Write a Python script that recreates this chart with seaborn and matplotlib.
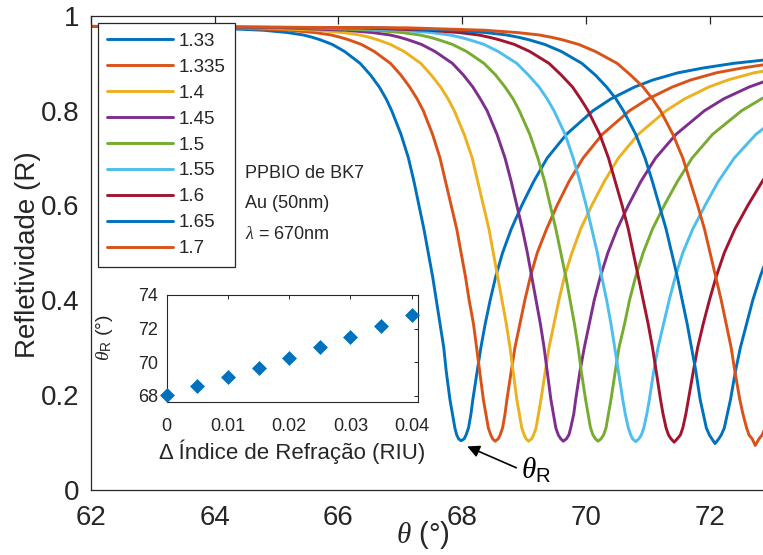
import matplotlib
matplotlib.use("Agg")
import matplotlib.pyplot as plt
import numpy as np
import pandas as pd
import seaborn as sns

# ---------------- data ----------------
labels = ["1.33", "1.335", "1.4", "1.45", "1.5", "1.55", "1.6", "1.65", "1.7"]
colors = ["#0072BD", "#D95319", "#EDB120", "#7E2F8E", "#77AC30",
          "#4DBEEE", "#A2142F", "#0072BD", "#D95319"]

# reflectivity levels at which the falling / rising branches were read
levels_desc = [0.978, 0.975, 0.97, 0.965, 0.96, 0.955, 0.95, 0.94, 0.925, 0.90,
               0.875, 0.85, 0.825, 0.80, 0.75, 0.70, 0.65, 0.60, 0.55, 0.50,
               0.45, 0.40, 0.35, 0.30, 0.25, 0.19, 0.16, 0.13, 0.115, 0.107]
levels_asc = [0.107, 0.115, 0.13, 0.16, 0.19, 0.25, 0.30, 0.35, 0.40, 0.45,
              0.50, 0.55, 0.60, 0.65, 0.70, 0.75, 0.80, 0.825, 0.85, 0.865,
              0.88, 0.89, 0.90, 0.91]

# angle (deg) of each curve at the falling-branch levels
desc_133 = [62.0, 63.88, 64.78, 65.18, 65.43, 65.58, 65.70, 65.90, 66.10, 66.35, 66.52, 66.66, 66.77, 66.86, 67.01, 67.13, 67.22, 67.30, 67.38, 67.45, 67.52, 67.58, 67.64, 67.70, 67.74, 67.80, 67.84, 67.88, 67.91, 67.94]
desc_1335 = [62.0, 64.27, 65.20, 65.62, 65.88, 66.03, 66.16, 66.37, 66.58, 66.84, 67.01, 67.15, 67.27, 67.37, 67.52, 67.64, 67.73, 67.82, 67.91, 67.98, 68.05, 68.11, 68.18, 68.23, 68.28, 68.34, 68.38, 68.42, 68.46, 68.49]
desc_140 = [62.0, 64.68, 65.65, 66.07, 66.34, 66.50, 66.63, 66.84, 67.06, 67.33, 67.50, 67.65, 67.77, 67.87, 68.03, 68.16, 68.25, 68.34, 68.43, 68.50, 68.57, 68.64, 68.71, 68.77, 68.82, 68.88, 68.92, 68.96, 69.00, 69.03]
desc_145 = [62.0, 65.12, 66.11, 66.55, 66.83, 66.99, 67.12, 67.34, 67.56, 67.84, 68.02, 68.17, 68.29, 68.40, 68.56, 68.69, 68.79, 68.88, 68.97, 69.05, 69.12, 69.19, 69.26, 69.32, 69.37, 69.43, 69.47, 69.51, 69.55, 69.59]
desc_150 = [62.0, 65.56, 66.57, 67.03, 67.31, 67.48, 67.61, 67.84, 68.07, 68.35, 68.54, 68.69, 68.82, 68.92, 69.09, 69.22, 69.33, 69.42, 69.51, 69.59, 69.67, 69.74, 69.81, 69.87, 69.92, 69.99, 70.03, 70.07, 70.11, 70.15]
desc_155 = [62.0, 65.96, 67.02, 67.50, 67.79, 67.97, 68.11, 68.35, 68.58, 68.88, 69.07, 69.24, 69.37, 69.48, 69.66, 69.79, 69.90, 70.00, 70.09, 70.18, 70.25, 70.33, 70.40, 70.46, 70.52, 70.59, 70.63, 70.68, 70.72, 70.75]
desc_160 = [62.0, 66.34, 67.45, 67.95, 68.26, 68.44, 68.59, 68.84, 69.09, 69.40, 69.60, 69.78, 69.91, 70.03, 70.22, 70.36, 70.47, 70.58, 70.68, 70.76, 70.84, 70.92, 71.00, 71.07, 71.13, 71.20, 71.24, 71.29, 71.33, 71.37]
desc_165 = [62.0, 66.67, 67.86, 68.38, 68.71, 68.91, 69.07, 69.33, 69.60, 69.93, 70.15, 70.33, 70.48, 70.60, 70.80, 70.95, 71.07, 71.18, 71.29, 71.38, 71.47, 71.55, 71.63, 71.70, 71.77, 71.84, 71.89, 71.94, 71.99, 72.03]
desc_170 = [62.0, 67.11, 68.35, 68.89, 69.24, 69.44, 69.61, 69.88, 70.15, 70.50, 70.72, 70.92, 71.07, 71.20, 71.40, 71.56, 71.68, 71.80, 71.91, 72.00, 72.09, 72.18, 72.26, 72.34, 72.40, 72.48, 72.53, 72.59, 72.63, 72.68]

# resonance minimum of each curve
theta_min = [67.98, 68.53, 69.07, 69.63, 70.19, 70.80, 71.42, 72.08, 72.73]
r_min = [0.103, 0.102, 0.102, 0.102, 0.102, 0.101, 0.100, 0.097, 0.093]

# angle (deg) of each curve at the rising-branch levels
asc_133 = [68.03, 68.06, 68.10, 68.14, 68.17, 68.24, 68.30, 68.37, 68.45, 68.54, 68.65, 68.79, 68.96, 69.15, 69.37, 69.68, 70.11, 70.40, 70.78, 71.08, 71.48, 71.88, 72.38, 73.08]
asc_1335 = [68.58, 68.61, 68.65, 68.69, 68.72, 68.79, 68.85, 68.93, 69.01, 69.10, 69.21, 69.36, 69.53, 69.72, 69.95, 70.26, 70.70, 71.00, 71.39, 71.69, 72.10, 72.51, 73.02]
asc_140 = [69.12, 69.15, 69.19, 69.23, 69.27, 69.34, 69.40, 69.48, 69.56, 69.65, 69.77, 69.91, 70.09, 70.29, 70.52, 70.84, 71.29, 71.59, 71.98, 72.29, 72.71, 73.13]
asc_145 = [69.68, 69.72, 69.75, 69.80, 69.83, 69.90, 69.97, 70.05, 70.13, 70.23, 70.35, 70.50, 70.68, 70.88, 71.12, 71.45, 71.91, 72.22, 72.63, 72.95, 73.38]
asc_150 = [70.24, 70.28, 70.32, 70.36, 70.40, 70.47, 70.53, 70.62, 70.70, 70.80, 70.92, 71.07, 71.26, 71.47, 71.71, 72.04, 72.51, 72.83, 73.24]
asc_155 = [70.85, 70.89, 70.93, 70.98, 71.02, 71.09, 71.16, 71.25, 71.34, 71.44, 71.56, 71.72, 71.92, 72.13, 72.39, 72.74, 73.23]
asc_160 = [71.47, 71.52, 71.56, 71.61, 71.65, 71.73, 71.80, 71.89, 71.99, 72.10, 72.23, 72.40, 72.61, 72.84, 73.10]
asc_165 = [72.14, 72.18, 72.23, 72.28, 72.33, 72.41, 72.49, 72.59, 72.69, 72.81, 72.95, 73.13]
asc_170 = [72.79, 72.84, 72.89, 72.94, 72.99, 73.08]

# inset: resonance angle vs refractive-index change
delta_n = [0.0, 0.005, 0.01, 0.015, 0.02, 0.025, 0.03, 0.035, 0.04]
theta_r = [68.08, 68.60, 69.14, 69.68, 70.26, 70.90, 71.52, 72.16, 72.80]

x_ticks = [62, 64, 66, 68, 70, 72]
y_ticks = [0, 0.2, 0.4, 0.6, 0.8, 1]
y_ticklabels = ["0", "0.2", "0.4", "0.6", "0.8", "1"]
inset_xticks = [0, 0.01, 0.02, 0.03, 0.04]
inset_xticklabels = ["0", "0.01", "0.02", "0.03", "0.04"]
inset_yticks = [68, 70, 72, 74]

# ---------------- build long table ----------------
desc_all = [desc_133, desc_1335, desc_140, desc_145, desc_150, desc_155,
            desc_160, desc_165, desc_170]
asc_all = [asc_133, asc_1335, asc_140, asc_145, asc_150, asc_155,
           asc_160, asc_165, asc_170]
rows = []
for lab, d, tm, rm, a in zip(labels, desc_all, theta_min, r_min, asc_all):
    xs = list(d) + [tm] + list(a)
    ys = list(levels_desc) + [rm] + list(levels_asc[:len(a)])
    for xv, yv in zip(xs, ys):
        rows.append({"n": lab, "theta": xv, "R": yv})
df = pd.DataFrame(rows)

# ---------------- style ----------------
sns.set_style("white")
plt.rcParams.update({
    "font.family": ["Liberation Sans", "DejaVu Sans"],
    "mathtext.fontset": "custom",
    "mathtext.rm": "Liberation Sans",
    "mathtext.it": "Liberation Serif:italic",
    "mathtext.bf": "Liberation Sans:bold",
    "axes.edgecolor": "#262626",
    "axes.linewidth": 0.9,
    "text.color": "#262626",
    "axes.labelcolor": "#262626",
    "xtick.color": "#262626",
    "ytick.color": "#262626",
})

W, H = 763, 555
fig = plt.figure(figsize=(W / 100, H / 100), dpi=100)
fig.patch.set_facecolor("white")


def fx(px):
    return px / W


def fy(py):
    return 1 - py / H


ax = fig.add_axes([fx(90.7), fy(489.5), 681.3 / W, 473.5 / H])

sns.lineplot(data=df, x="theta", y="R", hue="n", hue_order=labels,
             palette=colors, sort=False, estimator=None, units="n",
             linewidth=2.1, ax=ax, legend=True)

ax.set_xlim(62, 73)
ax.set_ylim(0, 1)
ax.set_xticks(x_ticks)
ax.set_xticklabels([str(t) for t in x_ticks])
ax.set_yticks(y_ticks)
ax.set_yticklabels(y_ticklabels)
ax.tick_params(direction="in", length=6, width=0.9, top=True, right=True,
               labelsize=20)
ax.tick_params(axis="x", pad=11)
ax.tick_params(axis="y", pad=8)
for s in ax.spines.values():
    s.set_visible(True)
    s.set_color("#262626")

ax.set_xlabel(r"$\theta$ (°)", fontsize=21)
ax.set_ylabel("Refletividade (R)", fontsize=20)
ax.xaxis.set_label_coords((423 - 90.7) / 681.3, -0.062)
ax.yaxis.set_label_coords(-0.073, 0.495)

handles, labs = ax.get_legend_handles_labels()
leg = ax.legend(handles, labs, loc="upper left",
                bbox_to_anchor=(fx(97.7), fy(23.3)),
                bbox_transform=fig.transFigure, borderaxespad=0,
                fontsize=13.5, handlelength=3.5, handletextpad=0.3,
                labelspacing=0.47, frameon=True, fancybox=False,
                framealpha=1, edgecolor="#262626", borderpad=0.5)
leg.get_frame().set_linewidth(0.9)
for h in leg.get_lines():
    h.set_linewidth(2.1)

# text block
fig.text(fx(245), fy(178), "PPBIO de BK7", fontsize=13, va="baseline", ha="left")
fig.text(fx(245), fy(208), "Au (50nm)", fontsize=13, va="baseline", ha="left")
fig.text(fx(245), fy(239), r"$\lambda$ = 670nm", fontsize=13, va="baseline", ha="left")

# arrow + theta_R label
ax.annotate("", xy=(68.08, 0.091), xytext=(68.87, 0.046),
            arrowprops=dict(arrowstyle="-|>", color="black", lw=1.2,
                            mutation_scale=18, shrinkA=0, shrinkB=0))
ax.text(68.95, 0.04, r"$\theta_{\mathrm{R}}$", fontsize=21, va="center",
        ha="left", color="black")

# ---------------- inset ----------------
ins = fig.add_axes([fx(166.7), fy(401.7), 251.6 / W, 106.7 / H])
ins.set_facecolor("white")
sns.scatterplot(x=delta_n, y=theta_r, marker="D", s=50, color="#0072BD",
                edgecolor="#0072BD", linewidth=0.5, ax=ins, clip_on=False,
                zorder=5)
ins.set_xlim(0, 0.0411)
ins.set_ylim(67.66, 74)
ins.set_xticks(inset_xticks)
ins.set_xticklabels(inset_xticklabels)
ins.set_yticks(inset_yticks)
ins.set_yticklabels([str(t) for t in inset_yticks])
ins.tick_params(direction="in", length=3, width=0.7, top=True, right=True,
                labelsize=13)
ins.tick_params(axis="x", pad=12)
ins.tick_params(axis="y", pad=6)
for s in ins.spines.values():
    s.set_visible(True)
    s.set_color("#262626")
    s.set_linewidth(0.8)
ins.set_xlabel("Δ Índice de Refração (RIU)", fontsize=16)
ins.xaxis.set_label_coords(0.5, -0.355)
ins.set_ylabel(r"$\theta_{\mathrm{R}}$ (°)", fontsize=14)
ins.yaxis.set_label_coords(-0.205, 0.6)

fig.savefig("out.png", dpi=100, facecolor="white")
